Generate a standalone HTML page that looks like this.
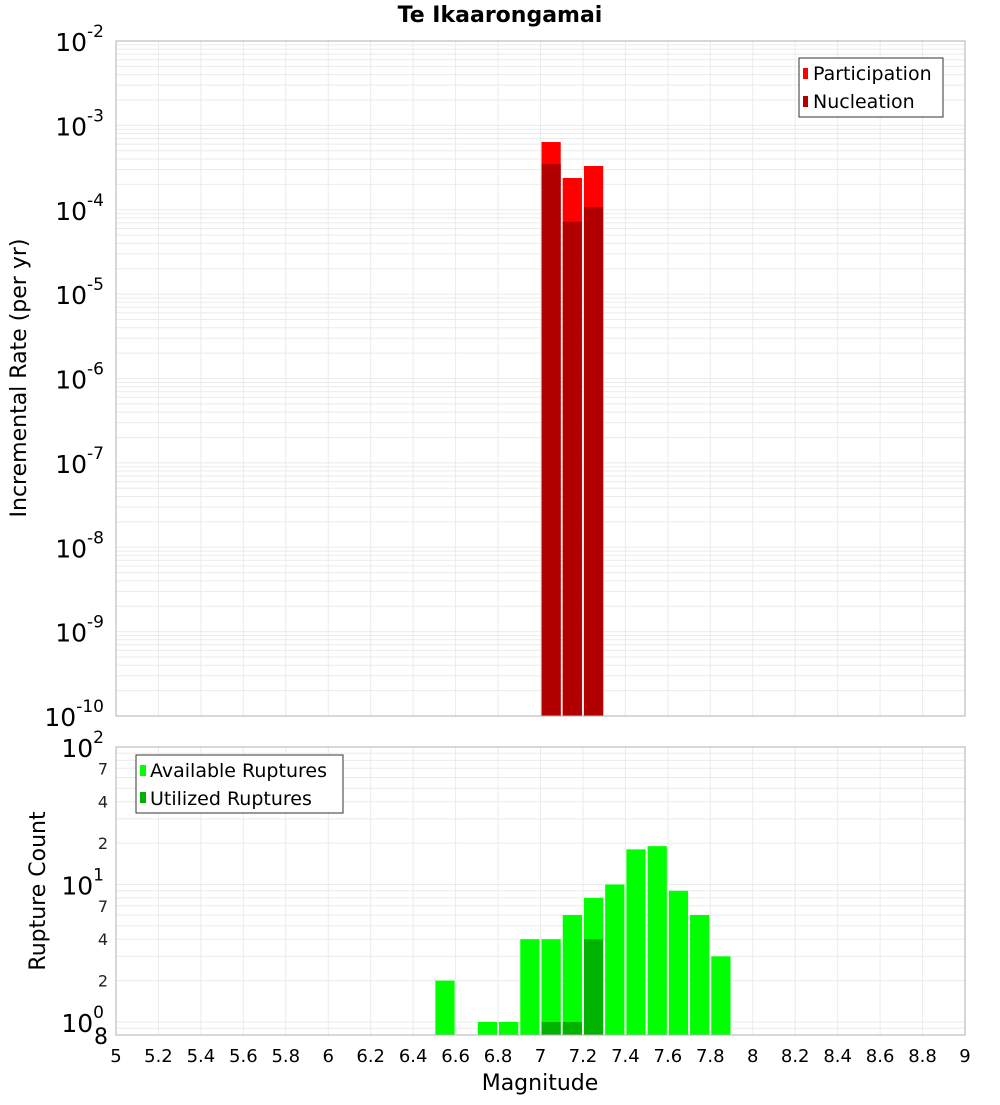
<!DOCTYPE html>
<html><head><meta charset="utf-8"><style>
body{margin:0;background:#fff;}
svg{font-family:"DejaVu Sans","Liberation Sans",sans-serif;}
</style></head><body>
<svg id="c" width="1000" height="1100" xmlns="http://www.w3.org/2000/svg">
<text x="500" y="22" text-anchor="middle" font-size="22" font-weight="bold">Te Ikaarongamai</text>
<g id="topPlot"></g>
<g id="botPlot"></g>
<text transform="translate(26,378) rotate(-90)" text-anchor="middle" font-size="22">Incremental Rate (per yr)</text>
<text transform="translate(45,891) rotate(-90)" text-anchor="middle" font-size="22">Rupture Count</text>
<text x="540" y="1090" text-anchor="middle" font-size="22">Magnitude</text>
</svg>
<script>
const rateMags=[7.05,7.15,7.25];
const participation=[6.35e-4,2.38e-4,3.3e-4];
const nucleation=[3.5e-4,7.2e-5,1.08e-4];
const countMags=[6.55,6.75,6.85,6.95,7.05,7.15,7.25,7.35,7.45,7.55,7.65,7.75,7.85];
const available=[2,1,1,4,4,6,8,10,18,19,9,6,3];
const utilMags=[7.05,7.15,7.25];
const utilized=[1,1,4];
const xTicks=[5,5.2,5.4,5.6,5.8,6,6.2,6.4,6.6,6.8,7,7.2,7.4,7.6,7.8,8,8.2,8.4,8.6,8.8,9];
const rateDecades=[-2,-3,-4,-5,-6,-7,-8,-9,-10];
const countMinor=[7,4,2];

const NS="http://www.w3.org/2000/svg";
const L=116,R=965;
const x=m=>L+(m-5)/4*(R-L);
const T1=41,B1=716;
const y1=v=>T1+(-2-Math.log10(v))/8*(B1-T1);
const T2=747,B2=1035,D2=137.5;
const y2=v=>T2+(2-Math.log10(v))*D2;
function el(p,tag,a,txt){const e=document.createElementNS(NS,tag);for(const k in a)e.setAttribute(k,a[k]);if(txt!=null)e.textContent=txt;p.appendChild(e);return e;}
const gTop=document.getElementById('topPlot'),gBot=document.getElementById('botPlot');

for(let d=-10;d<-2;d++){for(let k=1;k<10;k++){const v=k*Math.pow(10,d);const yy=y1(v);if(yy<T1||yy>B1)continue;
const g=el(gTop,'line',{x1:L,x2:R,y1:yy,y2:yy,stroke:'#ebebeb','stroke-width':1});

}}
xTicks.forEach(t=>{const g=el(gTop,'line',{x1:x(t),x2:x(t),y1:T1,y2:B1,stroke:'#ebebeb'});


const g2=el(gBot,'line',{x1:x(t),x2:x(t),y1:T2,y2:B2,stroke:'#ebebeb'});

});
const bw=0.1;
rateMags.forEach((m,i)=>{const r=el(gTop,'rect',{x:x(m-bw/2)+1,width:x(m+bw/2)-x(m-bw/2)-2,y:y1(participation[i]),height:B1-y1(participation[i]),fill:'#ff0000'});

});
rateMags.forEach((m,i)=>{const r=el(gTop,'rect',{x:x(m-bw/2)+1,width:x(m+bw/2)-x(m-bw/2)-2,y:y1(nucleation[i]),height:B1-y1(nucleation[i]),fill:'#b20000'});

});
el(gTop,'rect',{x:L,y:T1,width:R-L,height:B1-T1,fill:'none',stroke:'#b0b0b0'});
rateDecades.forEach(d=>{const yy=y1(Math.pow(10,d));const t=el(gTop,'text',{x:L-12,y:yy+10,'text-anchor':'end','font-size':25});


t.textContent='10';el(t,'tspan',{dy:-14,'font-size':17},String(d));});
const lg=el(gTop,'g',{});


el(lg,'rect',{x:799,y:58,width:144,height:59,fill:'#fff',stroke:'#333'});
el(lg,'rect',{x:803,y:68,width:5,height:11,fill:'#ff0000'});
el(lg,'text',{x:813,y:80,'font-size':19},'Participation');
el(lg,'rect',{x:803,y:96,width:5,height:11,fill:'#b20000'});
el(lg,'text',{x:813,y:108,'font-size':19},'Nucleation');

for(let d=-1;d<2;d++){for(let k=1;k<10;k++){const v=k*Math.pow(10,d);const yy=y2(v);if(yy<T2||yy>B2)continue;
const g=el(gBot,'line',{x1:L,x2:R,y1:yy,y2:yy,stroke:'#ebebeb'});

}}
countMags.forEach((m,i)=>{const r=el(gBot,'rect',{x:x(m-bw/2)+1,width:x(m+bw/2)-x(m-bw/2)-2,y:y2(available[i]),height:B2-y2(available[i]),fill:'#00ff00'});

});
utilMags.forEach((m,i)=>{const r=el(gBot,'rect',{x:x(m-bw/2)+1,width:x(m+bw/2)-x(m-bw/2)-2,y:y2(utilized[i]),height:B2-y2(utilized[i]),fill:'#00b200'});

});
el(gBot,'rect',{x:L,y:T2,width:R-L,height:B2-T2,fill:'none',stroke:'#b0b0b0'});
[2,1,0].forEach(d=>{const yy=y2(Math.pow(10,d));const t=el(gBot,'text',{x:L-12,y:yy+10,'text-anchor':'end','font-size':25});


t.textContent='10';el(t,'tspan',{dy:-14,'font-size':17},String(d));});
[1,0].forEach(d=>{countMinor.forEach(k=>{const t=el(gBot,'text',{x:L-8,y:y2(k*Math.pow(10,d))+6,'text-anchor':'end','font-size':16,fill:'#222'},String(k));

});});
{const t=el(gBot,'text',{x:L-8,y:B2+9,'text-anchor':'end','font-size':22},'8');

}
xTicks.forEach(tk=>{const t=el(gBot,'text',{x:x(tk),y:1062,'text-anchor':'middle','font-size':18},String(tk));

});
const lg2=el(gBot,'g',{});


el(lg2,'rect',{x:136,y:755,width:207,height:58,fill:'#fff',stroke:'#333'});
el(lg2,'rect',{x:140,y:765,width:6,height:11,fill:'#00ff00'});
el(lg2,'text',{x:150,y:777,'font-size':19},'Available Ruptures');
el(lg2,'rect',{x:140,y:792,width:6,height:11,fill:'#00b200'});
el(lg2,'text',{x:150,y:805,'font-size':19},'Utilized Ruptures');
</script>
</body></html>
